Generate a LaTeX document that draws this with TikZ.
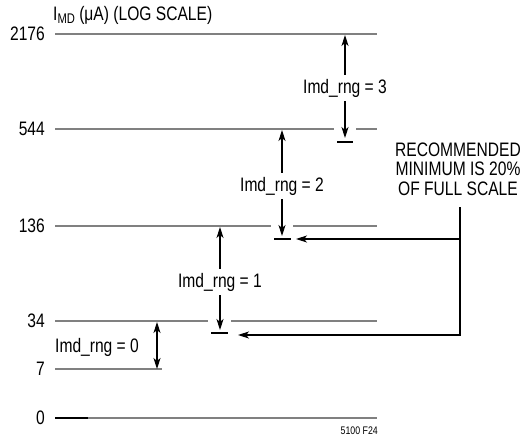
\documentclass[tikz,border=0pt]{standalone}
\usepackage{fontspec}
\setmainfont{Liberation Sans}[FakeStretch=0.80]
\usetikzlibrary{arrows.meta}
\definecolor{levelgray}{HTML}{808080}
\begin{document}
\begin{tikzpicture}[x=1pt,y=-1pt,
  lvl/.style={draw=levelgray, line width=1.7pt},
  arr/.style={draw=black, line width=1.1pt, -{Stealth[length=11pt,width=7pt,inset=3pt]}},
  dblarr/.style={draw=black, line width=1.1pt, {Stealth[length=11pt,width=7pt,inset=3pt]}-{Stealth[length=11pt,width=7pt,inset=3pt]}},
  tickbar/.style={draw=black, line width=1.1pt},
  lbl/.style={font=\fontsize{19.5}{19.5}\selectfont, inner xsep=1pt, inner ysep=4pt},
  num/.style={lbl, anchor=east}]
\useasboundingbox (0,0) rectangle (526,441);

% axis labels
\node[lbl, anchor=west] (title) at (52,15) {I\raisebox{-0.35ex}{\fontsize{14}{14}\selectfont MD} (μA) (LOG SCALE)};
\node[num] (n2176) at (46,34) {2176};
\node[num] (n544) at (46,129) {544};
\node[num] (n136) at (46,226) {136};
\node[num] (n34) at (46,321) {34};
\node[num] (n7) at (46,369) {7};
\node[num] (n0) at (46,418) {0};

% level lines
\coordinate (l1a) at (55,34);  \coordinate (l1b) at (377,34);
\draw[lvl] (l1a) -- (l1b);
\coordinate (l2a) at (55,129); \coordinate (l2b) at (334,129);
\coordinate (l2c) at (356,129); \coordinate (l2d) at (377,129);
\draw[lvl] (l2a) -- (l2b); \draw[lvl] (l2c) -- (l2d);
\coordinate (l3a) at (55,226); \coordinate (l3b) at (271,226);
\coordinate (l3c) at (293,226); \coordinate (l3d) at (377,226);
\draw[lvl] (l3a) -- (l3b); \draw[lvl] (l3c) -- (l3d);
\coordinate (l4a) at (55,321); \coordinate (l4b) at (208,321);
\coordinate (l4c) at (231,321); \coordinate (l4d) at (377,321);
\draw[lvl] (l4a) -- (l4b); \draw[lvl] (l4c) -- (l4d);
\coordinate (l5a) at (55,369); \coordinate (l5b) at (162,369);
\draw[lvl] (l5a) -- (l5b);
\coordinate (l6a) at (55,418); \coordinate (l6m) at (88,418); \coordinate (l6b) at (377,418);
\draw[lvl] (l6m) -- (l6b);
\draw[line width=1.7pt, black] (l6a) -- (l6m);

% Imd_rng = 3
\node[lbl] (t3) at (345,88) {Imd\_rng = 3};
\coordinate (u3) at (345,35); \coordinate (d3) at (345,138);
\draw[arr] (t3.north) -- (u3);
\draw[arr] (t3.south) -- (d3);
\coordinate (k3a) at (337,142); \coordinate (k3b) at (353,142);
\draw[tickbar] (k3a) -- (k3b);

% Imd_rng = 2
\node[lbl] (t2) at (282,186) {Imd\_rng = 2};
\coordinate (u2) at (282,130); \coordinate (d2) at (282,236);
\draw[arr] (t2.north) -- (u2);
\draw[arr] (t2.south) -- (d2);
\coordinate (k2a) at (274,239); \coordinate (k2b) at (291,239);
\draw[tickbar] (k2a) -- (k2b);

% Imd_rng = 1
\node[lbl] (t1) at (220,282) {Imd\_rng = 1};
\coordinate (u1) at (220,227); \coordinate (d1) at (220,330);
\draw[arr] (t1.north) -- (u1);
\draw[arr] (t1.south) -- (d1);
\coordinate (k1a) at (211,333); \coordinate (k1b) at (228,333);
\draw[tickbar] (k1a) -- (k1b);

% Imd_rng = 0
\node[lbl, anchor=west] (t0) at (54,347) {Imd\_rng = 0};
\coordinate (v0a) at (157,322); \coordinate (v0b) at (157,369);
\draw[dblarr] (v0a) -- (v0b);

% recommended minimum
\node[lbl, align=center, inner ysep=2pt] (rec) at (458,169) {RECOMMENDED\\MINIMUM IS 20\%\\OF FULL SCALE};
\coordinate (r0) at (460,207); \coordinate (r1) at (460,335);
\coordinate (e1) at (238,335);
\coordinate (r2) at (460,239); \coordinate (e2) at (296,239);
\draw[arr] (r0) -- (r1) -- (e1);
\draw[arr] (r2) -- (e2);

% figure id
\node[font=\fontsize{11}{11}\selectfont, anchor=east, inner sep=0pt] (fid) at (378,431) {5100 F24};
\end{tikzpicture}
\end{document}
